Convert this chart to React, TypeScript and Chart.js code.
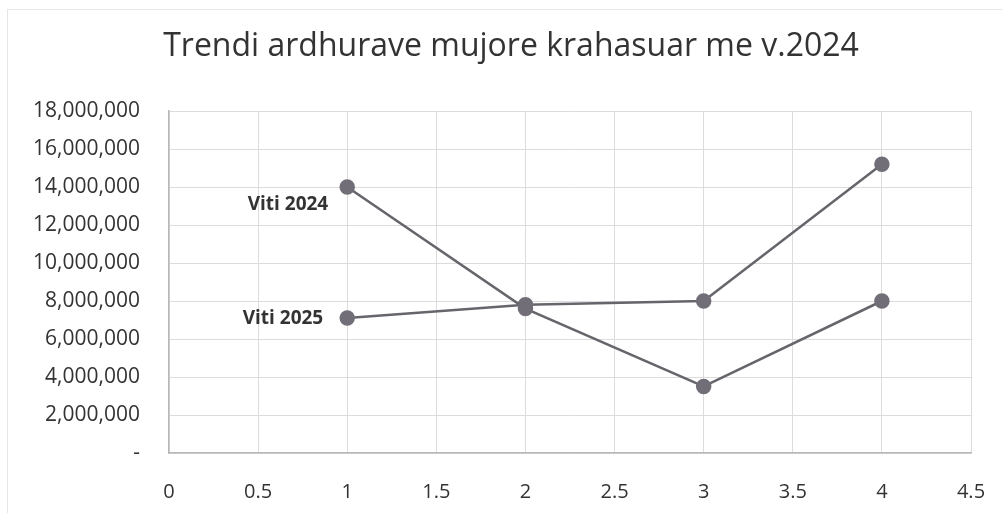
import React, { useEffect, useRef } from "react";
import { Chart, registerables } from "chart.js";

Chart.register(...registerables);

const titleText = "Trendi ardhurave mujore krahasuar me v.2024";
const xValues = [1, 2, 3, 4];
const viti2024 = [14000000, 7600000, 3500000, 8000000];
const viti2025 = [7100000, 7800000, 8000000, 15200000];
const seriesLabels = ["Viti 2024", "Viti 2025"];
const xTicks = [0, 0.5, 1, 1.5, 2, 2.5, 3, 3.5, 4, 4.5];

const FONT = "'Open Sans', sans-serif";

const labelPlugin = {
  id: "seriesLabels",
  afterDatasetsDraw(chart: any) {
    const ctx = chart.ctx;
    ctx.save();
    ctx.font = `bold 19px ${FONT}`;
    ctx.fillStyle = "#333333";
    ctx.textAlign = "right";
    ctx.textBaseline = "middle";
    chart.data.datasets.forEach((ds: any, i: number) => {
      const meta = chart.getDatasetMeta(i);
      const pt = meta.data[0];
      if (!pt) return;
      const dy = i === 0 ? 18 : 0;
      const dx = i === 0 ? 19 : 24;
      ctx.fillText(ds.label, pt.x - dx, pt.y + dy);
    });
    ctx.restore();
  },
};

const titlePlugin = {
  id: "fixedTitle",
  afterDraw(chart: any) {
    const ctx = chart.ctx;
    ctx.save();
    ctx.font = `32px ${FONT}`;
    ctx.fillStyle = "#333333";
    ctx.textAlign = "center";
    ctx.textBaseline = "middle";
    ctx.fillText(titleText, 511, 47);
    ctx.restore();
  },
};

export default function App() {
  const ref = useRef<HTMLCanvasElement>(null);
  useEffect(() => {
    document.body.style.margin = "0";
    const toPts = (ys: number[]) => xValues.map((x, i) => ({ x, y: ys[i] }));
    const lineColor = "#67656b";
    const ptColor = "#726e78";
    const chart = new Chart(ref.current!, {
      type: "scatter",
      data: {
        datasets: [
          {
            label: seriesLabels[0],
            data: toPts(viti2024),
            showLine: true,
            borderColor: lineColor,
            borderWidth: 2.5,
            pointRadius: 6.5,
            pointBackgroundColor: ptColor,
            pointBorderColor: ptColor,
          },
          {
            label: seriesLabels[1],
            data: toPts(viti2025),
            showLine: true,
            borderColor: lineColor,
            borderWidth: 2.5,
            pointRadius: 6.5,
            pointBackgroundColor: ptColor,
            pointBorderColor: ptColor,
          },
        ],
      },
      options: {
        animation: false,
        responsive: false,
        layout: { padding: { left: 0, right: 31, top: 111, bottom: 0 } },
        plugins: {
          legend: { display: false },
          tooltip: { enabled: false },
          title: { display: false },
        },
        scales: {
          x: {
            type: "linear",
            min: 0,
            max: 4.5,
            afterBuildTicks: (axis: any) => {
              axis.ticks = xTicks.map((v) => ({ value: v }));
            },
            afterFit: (axis: any) => {
              axis.height = 60;
              axis.paddingLeft = 0;
              axis.paddingRight = 0;
            },
            grid: { color: "#dcdcdc", drawTicks: false, lineWidth: 1 },
            border: { color: "#b8b8b8", width: 1.5 },
            ticks: {
              padding: 27,
              color: "#333333",
              font: { family: FONT, size: 20 },
              callback: (v: any) => String(v),
            },
          },
          y: {
            min: 0,
            max: 18000000,
            afterFit: (axis: any) => {
              axis.width = 169;
              axis.paddingTop = 0;
              axis.paddingBottom = 0;
            },
            grid: { color: "#dcdcdc", drawTicks: false, lineWidth: 1 },
            border: { color: "#b8b8b8", width: 1.5 },
            ticks: {
              stepSize: 2000000,
              padding: 29,
              color: "#333333",
              font: { family: FONT, size: 21 },
              callback: (v: any) => (v === 0 ? "-" : Number(v).toLocaleString("en-US")),
            },
          },
        },
      },
      plugins: [labelPlugin, titlePlugin],
    });
    return () => chart.destroy();
  }, []);
  return (
    <div style={{ width: 1002, height: 513, position: "relative", background: "#fff" }}>
      <div
        style={{
          position: "absolute",
          left: 7,
          top: 9,
          right: 0,
          bottom: 0,
          borderLeft: "1px solid #e6e6e6",
          borderTop: "1px solid #e6e6e6",
          pointerEvents: "none",
        }}
      />
      <canvas ref={ref} width={1002} height={513} style={{ display: "block" }} />
    </div>
  );
}
